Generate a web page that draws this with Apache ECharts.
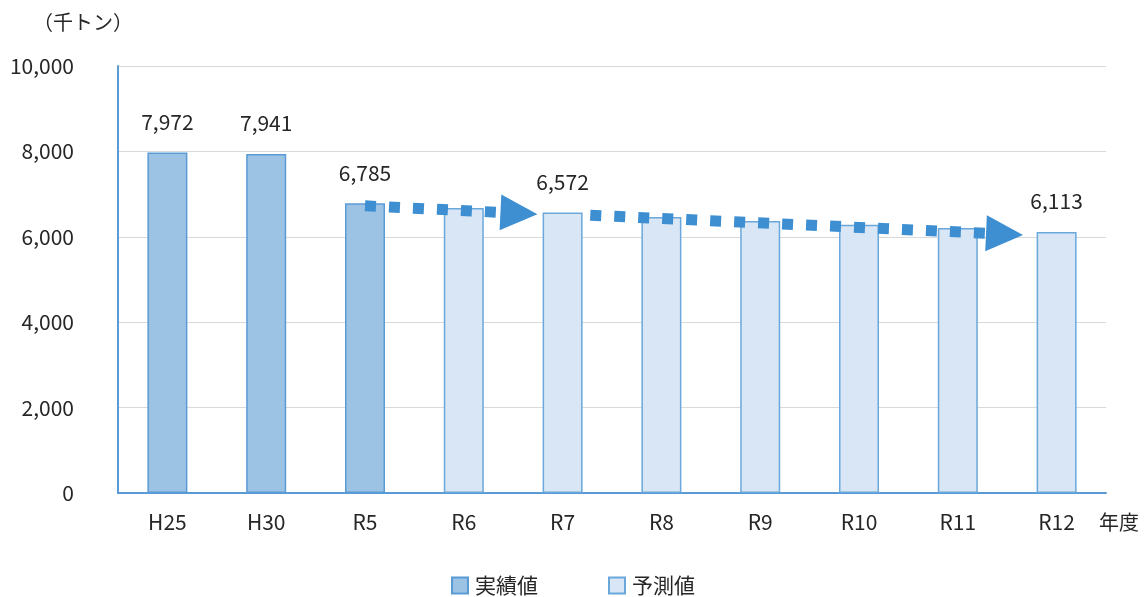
<!DOCTYPE html>
<html>
<head>
<meta charset="utf-8">
<script src="https://cdn.jsdelivr.net/npm/echarts@6/dist/echarts.min.js"></script>
<style>
  html, body { margin: 0; padding: 0; background: #fff; }
  #chart { width: 1146px; height: 597px; }
</style>
</head>
<body>
<div id="chart"></div>
<script>
// 年度ごとの値（千トン）
const categories = ['H25', 'H30', 'R5', 'R6', 'R7', 'R8', 'R9', 'R10', 'R11', 'R12'];
const actualValues = [7972, 7941, 6785, null, null, null, null, null, null, null];
const forecastValues = [null, null, null, 6674, 6572, 6466, 6372, 6280, 6205, 6113];
const labeledCategories = ['H25', 'H30', 'R5', 'R7', 'R12'];
const yTicks = { min: 0, max: 10000, interval: 2000 };
// 推移を示す矢印: [始点の区分位置, 始点値, 終点の区分位置, 終点値]
const trendArrows = [
  [2.0, 6725, 3.745, 6530],
  [4.28, 6505, 8.66, 6045]
];

const FONT = '"Noto Sans CJK JP", "Noto Sans", sans-serif';
const TEXT = '#262626';
const chart = echarts.init(document.getElementById('chart'));

const valueLabel = {
  show: true,
  position: 'top',
  distance: 20,
  color: TEXT,
  fontSize: 21,
  fontFamily: FONT,
  formatter: p => labeledCategories.includes(p.name) ? p.value.toLocaleString('en-US') : ''
};

function renderArrow(params, api) {
  const p0 = api.coord([api.value(0), api.value(1)]);
  const p1 = api.coord([api.value(2), api.value(3)]);
  const dx = p1[0] - p0[0], dy = p1[1] - p0[1];
  const len = Math.sqrt(dx * dx + dy * dy);
  const ux = dx / len, uy = dy / len;
  const headLen = 37, headHalf = 18;
  const bx = p1[0] - ux * headLen, by = p1[1] - uy * headLen;
  return {
    type: 'group',
    children: [
      {
        type: 'line',
        shape: { x1: p0[0], y1: p0[1], x2: bx, y2: by },
        style: { stroke: '#3d8fd1', lineWidth: 11, lineDash: [11, 13], lineCap: 'butt' }
      },
      {
        type: 'polygon',
        shape: {
          points: [
            [p1[0], p1[1]],
            [bx - uy * headHalf, by + ux * headHalf],
            [bx + uy * headHalf, by - ux * headHalf]
          ]
        },
        style: { fill: '#3d8fd1' }
      }
    ]
  };
}

chart.setOption({
  animation: false,
  textStyle: { fontFamily: FONT },
  grid: { left: 118, right: 40, top: 66, bottom: 104, containLabel: false },
  graphic: [
    { type: 'text', left: 33, top: 12, style: { text: '（千トン）', fontSize: 20, fill: TEXT, fontFamily: FONT } },
    { type: 'text', left: 1099, top: 512, style: { text: '年度', fontSize: 20, fill: TEXT, fontFamily: FONT } }
  ],
  legend: {
    top: 570,
    left: 'center',
    itemWidth: 16,
    itemHeight: 16,
    itemGap: 70,
    icon: 'rect',
    textStyle: { fontSize: 21, color: TEXT, fontFamily: FONT, padding: [0, 0, 0, 2] },
    data: ['実績値', '予測値']
  },
  xAxis: [
    {
      type: 'category',
      data: categories,
      axisLine: { lineStyle: { color: '#5b9bd5', width: 2 } },
      axisTick: { show: false },
      axisLabel: { color: TEXT, fontSize: 21, margin: 19, fontFamily: FONT }
    },
    {
      // 矢印の位置決め用（非表示）: 区分の中心が整数になる連続軸
      type: 'value',
      min: -0.5,
      max: categories.length - 0.5,
      show: false
    }
  ],
  yAxis: {
    type: 'value',
    min: yTicks.min,
    max: yTicks.max,
    interval: yTicks.interval,
    axisLine: { show: true, onZero: false, lineStyle: { color: '#5b9bd5', width: 2 } },
    axisTick: { show: false },
    splitLine: { lineStyle: { color: '#d9d9d9' } },
    axisLabel: {
      color: TEXT, fontSize: 21, margin: 44, fontFamily: FONT,
      formatter: v => v.toLocaleString('en-US')
    }
  },
  series: [
    {
      name: '実績値',
      type: 'bar',
      stack: 'total',
      barWidth: 40,
      data: actualValues,
      itemStyle: { color: '#9cc2e4', borderColor: '#5b9bd5', borderWidth: 1.5 },
      label: valueLabel
    },
    {
      name: '予測値',
      type: 'bar',
      stack: 'total',
      barWidth: 40,
      data: forecastValues,
      itemStyle: { color: '#d8e6f5', borderColor: '#6aa8dc', borderWidth: 1.5 },
      label: valueLabel
    },
    {
      type: 'custom',
      xAxisIndex: 1,
      renderItem: renderArrow,
      data: trendArrows,
      z: 5,
      silent: true,
      encode: { x: [0, 2], y: [1, 3] }
    }
  ]
});
</script>
</body>
</html>
